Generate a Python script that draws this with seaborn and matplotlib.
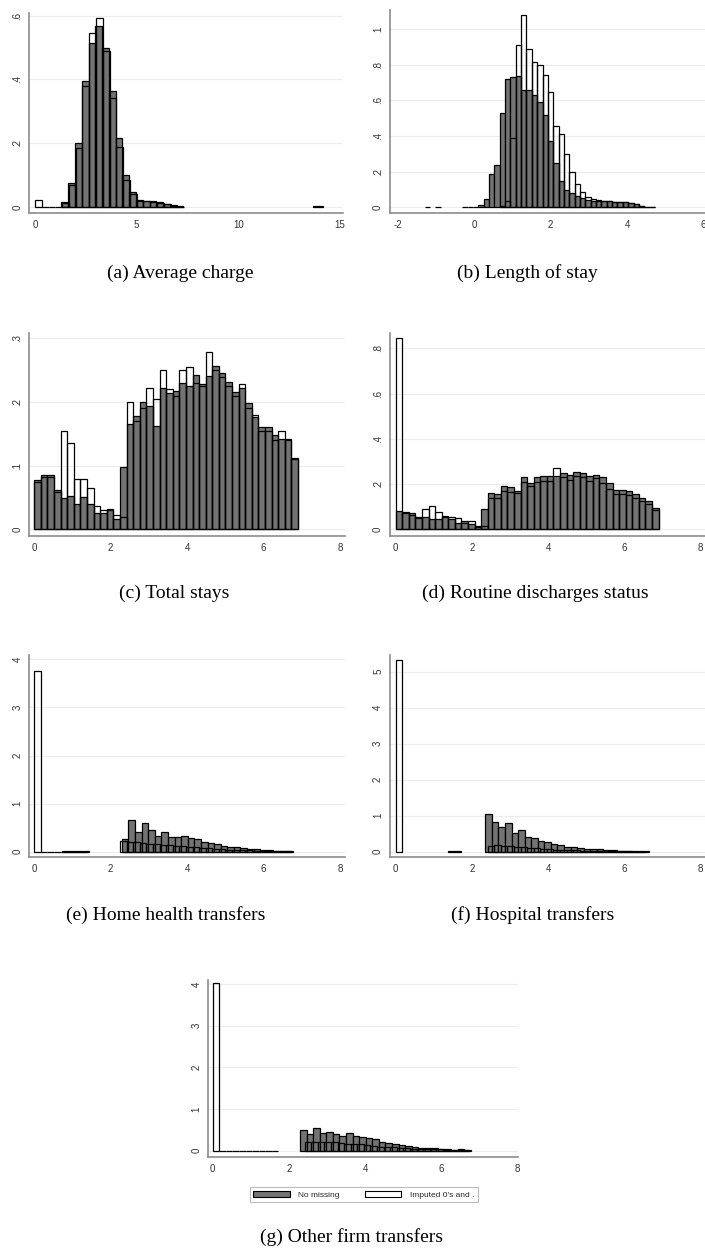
import matplotlib
matplotlib.use("Agg")
import matplotlib.pyplot as plt
from matplotlib.patches import Patch
import numpy as np
import pandas as pd
import seaborn as sns

W_PX, H_PX = 705, 1256
BIN = 0.1725

# (a) Average charge
a_gray_start, a_gray_width = 1.3, 1 / 3
a_gray = [0.015, 0.075, 0.20, 0.395, 0.515, 0.568, 0.498, 0.364, 0.216, 0.10, 0.047,
          0.022, 0.02, 0.018, 0.015, 0.011, 0.006, 0.003]
a_gray_far_start = 13.65
a_gray_far = [0.004, 0.004]
a_white_start, a_white_width = 0.0, 1 / 3
a_white = [0.023, 0.001, 0.001, 0.001, 0.012, 0.07, 0.185, 0.38, 0.545, 0.592, 0.49, 0.341,
           0.187, 0.086, 0.04, 0.02, 0.018, 0.016, 0.013, 0.01, 0.005, 0.002]

# (b) Length of stay
b_gray_start, b_width = -0.31, 0.14
b_gray = [0.002, 0.002, 0.003, 0.013, 0.047, 0.185, 0.24, 0.53, 0.72, 0.73, 0.74, 0.66, 0.66,
          0.63, 0.59, 0.52, 0.37, 0.25, 0.145, 0.097, 0.08, 0.065, 0.05, 0.04, 0.037, 0.035,
          0.035, 0.034, 0.032, 0.03, 0.027, 0.022, 0.017, 0.006, 0.003, 0.002]
b_white_start = -1.29
b_white = [0.003, None, 0.003, None, None, None, None, None, None, None, None, None, None, None,
           0.005, 0.035, 0.39, 0.91, 1.08, 0.89, 0.815, 0.80, 0.745, 0.65, 0.457, 0.41, 0.30,
           0.197, 0.13, 0.083, 0.06, 0.045, 0.04, 0.036, 0.034, 0.032, 0.03, 0.027, 0.022,
           0.017, 0.005, 0.003, 0.002]

# (c) Total stays
c_gray = [0.078, 0.085, 0.085, 0.061, 0.049, 0.053, 0.040, 0.050, 0.039, 0.026, 0.026, 0.030,
          0.016, 0.098, 0.165, 0.178, 0.20, 0.193, 0.163, 0.222, 0.214, 0.217, 0.23, 0.225,
          0.243, 0.228, 0.241, 0.256, 0.245, 0.232, 0.215, 0.222, 0.198, 0.176, 0.16, 0.16,
          0.148, 0.142, 0.142, 0.112]
c_white = [0.075, 0.082, 0.082, 0.058, 0.155, 0.136, 0.079, 0.079, 0.065, 0.037, 0.030, 0.032,
           0.022, 0.02, 0.20, 0.17, 0.19, 0.222, 0.205, 0.25, 0.22, 0.21, 0.25, 0.255, 0.23,
           0.225, 0.278, 0.25, 0.24, 0.225, 0.21, 0.228, 0.19, 0.18, 0.155, 0.155, 0.14, 0.155,
           0.14, 0.11]

# (d) Routine discharges status
d_gray = [0.08, 0.075, 0.07, 0.055, 0.055, 0.045, 0.045, 0.055, 0.045, 0.03, 0.035, 0.025,
          0.015, 0.09, 0.16, 0.155, 0.19, 0.185, 0.17, 0.23, 0.205, 0.23, 0.235, 0.235, 0.235,
          0.25, 0.24, 0.255, 0.25, 0.235, 0.24, 0.23, 0.205, 0.175, 0.175, 0.17, 0.155, 0.14,
          0.125, 0.095]
d_white = [0.847, 0.07, 0.065, 0.05, 0.09, 0.105, 0.075, 0.06, 0.055, 0.05, 0.03, 0.035, 0.012,
           0.015, 0.14, 0.14, 0.17, 0.165, 0.16, 0.21, 0.19, 0.21, 0.215, 0.215, 0.27, 0.23,
           0.22, 0.235, 0.23, 0.215, 0.225, 0.205, 0.18, 0.155, 0.155, 0.15, 0.14, 0.125, 0.11,
           0.085]

# (e) Home health transfers
e_gray_start = 0.0475
e_gray = [None, None, None, None, 0.008, 0.008, 0.008, 0.008, None, None, None, None, None,
          0.27, 0.655, 0.40, 0.59, 0.46, 0.33, 0.41, 0.30, 0.31, 0.32, 0.28, 0.27, 0.21, 0.19,
          0.155, 0.125, 0.105, 0.09, 0.08, 0.065, 0.055, 0.04, 0.03, 0.02, 0.012, 0.008]
e_white = [3.75, 0.003, 0.003, 0.003, 0.003, 0.003, 0.003, 0.003, None, None, None, None, None,
           0.22, 0.21, 0.20, 0.19, 0.17, 0.16, 0.15, 0.13, 0.12, 0.11, 0.10, 0.09, 0.08, 0.07,
           0.06, 0.05, 0.045, 0.04, 0.035, 0.03, 0.025, 0.02, 0.015, 0.01, 0.007, 0.005]

# (f) Hospital transfers
f_gray_start = 2.35
f_gray = [1.05, 0.82, 0.69, 0.785, 0.51, 0.59, 0.40, 0.37, 0.30, 0.28, 0.21, 0.19, 0.14, 0.12,
          0.09, 0.075, 0.065, 0.085, 0.045, 0.035, 0.025, 0.02, 0.015, 0.01, 0.006]
f_white = [5.32, None, None, None, None, None, None, None, 0.01, 0.01, None, None, None, None,
           0.17, 0.18, 0.17, 0.15, 0.13, 0.12, 0.10, 0.09, 0.08, 0.07, 0.06, 0.05, 0.04, 0.035,
           0.03, 0.025, 0.02, 0.015, 0.012, 0.01, 0.008, 0.006, 0.005, 0.004]

# (g) Other firm transfers
g_gray_start = 2.29
g_gray = [0.50, 0.40, 0.555, 0.42, 0.46, 0.395, 0.36, 0.435, 0.36, 0.34, 0.31, 0.27, 0.22,
          0.18, 0.15, 0.14, 0.11, 0.09, 0.065, 0.055, 0.055, 0.05, 0.03, 0.02, 0.03, 0.015]
g_white = [4.02, 0.003, 0.003, 0.003, 0.003, 0.003, 0.003, 0.003, 0.003, 0.003, None, None,
           None, None, 0.20, 0.20, 0.22, 0.20, 0.20, 0.18, 0.17, 0.16, 0.15, 0.13, 0.11, 0.10,
           0.09, 0.08, 0.07, 0.06, 0.05, 0.045, 0.04, 0.03, 0.03, 0.025, 0.02, 0.015, 0.01]

legend_labels = ["No missing", "Imputed 0's and ."]

panels = {
    "a": dict(rect=(29.3, 343, 13.3, 213.3), xlim=(-0.28, 15.15), ylim=(-0.019, 0.607),
              xticks=[0, 5, 10, 15], yticks=[0, 0.2, 0.4, 0.6], ylabels=["0", ".2", ".4", ".6"],
              series=[(a_gray_start, a_gray_width, a_gray, True),
                      (a_gray_far_start, 0.25, a_gray_far, True),
                      (a_white_start, a_white_width, a_white, False)],
              caption="(a) Average charge", cap_xy=(180, 273)),
    "b": dict(rect=(390, 705, 10, 213.3), xlim=(-2.2, 6.04), ylim=(-0.034, 1.108),
              xticks=[-2, 0, 2, 4, 6], yticks=[0, 0.2, 0.4, 0.6, 0.8, 1.0],
              ylabels=["0", ".2", ".4", ".6", ".8", "1"],
              series=[(b_gray_start, b_width, b_gray, True),
                      (b_white_start, b_width, b_white, False)],
              caption="(b) Length of stay", cap_xy=(527, 273)),
    "c": dict(rect=(29.3, 345, 333.3, 536), xlim=(-0.13, 8.13), ylim=(-0.0105, 0.308),
              xticks=[0, 2, 4, 6, 8], yticks=[0, 0.1, 0.2, 0.3], ylabels=["0", ".1", ".2", ".3"],
              series=[(0.0, BIN, c_gray, True), (0.0, BIN, c_white, False)],
              caption="(c) Total stays", cap_xy=(174, 593)),
    "d": dict(rect=(390, 705, 333.3, 536), xlim=(-0.15, 8.12), ylim=(-0.0296, 0.866),
              xticks=[0, 2, 4, 6, 8], yticks=[0, 0.2, 0.4, 0.6, 0.8],
              ylabels=["0", ".2", ".4", ".6", ".8"],
              series=[(0.0, BIN, d_gray, True), (0.0, BIN, d_white, False)],
              caption="(d) Routine discharges status", cap_xy=(535, 593)),
    "e": dict(rect=(29.3, 345, 655, 857.3), xlim=(-0.13, 8.13), ylim=(-0.116, 4.09),
              xticks=[0, 2, 4, 6, 8], yticks=[0, 1, 2, 3, 4], ylabels=["0", "1", "2", "3", "4"],
              series=[(e_gray_start, BIN, e_gray, True), (0.0, BIN, e_white, False)],
              caption="(e) Home health transfers", cap_xy=(166, 915)),
    "f": dict(rect=(390, 705, 655, 857.3), xlim=(-0.15, 8.12), ylim=(-0.156, 5.46),
              xticks=[0, 2, 4, 6, 8], yticks=[0, 1, 2, 3, 4, 5],
              ylabels=["0", "1", "2", "3", "4", "5"],
              series=[(f_gray_start, BIN, f_gray, True), (0.0, BIN, f_white, False)],
              caption="(f) Hospital transfers", cap_xy=(533, 915)),
    "g": dict(rect=(208.3, 518, 980, 1156.7), xlim=(-0.115, 8.01), ylim=(-0.144, 4.10),
              xticks=[0, 2, 4, 6, 8], yticks=[0, 1, 2, 3, 4], ylabels=["0", "1", "2", "3", "4"],
              series=[(g_gray_start, BIN, g_gray, True), (0.0, BIN, g_white, False)],
              caption="(g) Other firm transfers", cap_xy=(352, 1237)),
}

GRAY = "#737373"
AXIS = "#8c8c8c"

sns.set_style("white")
plt.rcParams["font.family"] = ["Liberation Sans", "DejaVu Sans"]


def draw_series(ax, start, width, heights, filled):
    # split on None so gaps stay empty
    runs, cur = [], []
    for i, h in enumerate(heights):
        if h is None:
            if cur:
                runs.append(cur)
            cur = []
        else:
            cur.append((i, h))
    if cur:
        runs.append(cur)
    for run in runs:
        idx = [i for i, _ in run]
        edges = start + width * np.arange(idx[0], idx[-1] + 2)
        df = pd.DataFrame({"center": edges[:-1] + width / 2, "h": [h for _, h in run]})
        bins = [float(e) for e in edges]
        if filled:
            sns.histplot(data=df, x="center", weights="h", bins=bins, stat="count", ax=ax,
                         element="bars", fill=True, color=GRAY, alpha=1,
                         edgecolor="black", linewidth=0.9)
        else:
            sns.histplot(data=df, x="center", weights="h", bins=bins, stat="count", ax=ax,
                         element="bars", fill=False, color="black", linewidth=0.9)


fig = plt.figure(figsize=(W_PX / 100, H_PX / 100), dpi=100)

for key, p in panels.items():
    left, right, top, bottom = p["rect"]
    ax = fig.add_axes([left / W_PX, 1 - bottom / H_PX, (right - left) / W_PX, (bottom - top) / H_PX])
    for start, width, heights, filled in p["series"]:
        draw_series(ax, start, width, heights, filled)
    ax.set_xlim(*p["xlim"])
    ax.set_ylim(*p["ylim"])
    ax.set_xticks(p["xticks"])
    ax.set_xticklabels([str(t) for t in p["xticks"]])
    ax.set_yticks(p["yticks"])
    ax.set_yticklabels(p["ylabels"], rotation=90, va="center")
    ax.set_xlabel("")
    ax.set_ylabel("")
    ax.set_axisbelow(True)
    ax.grid(axis="y", color="#ececec", linewidth=0.8)
    for side in ["top", "right"]:
        ax.spines[side].set_visible(False)
    for side in ["left", "bottom"]:
        ax.spines[side].set_color(AXIS)
        ax.spines[side].set_linewidth(1.2)
    ax.tick_params(axis="both", direction="out", length=3, width=0.8, color=AXIS,
                   labelsize=7, labelcolor="#333333", pad=2)
    cx, cy = p["cap_xy"]
    fig.text(cx / W_PX, 1 - cy / H_PX, p["caption"], ha="center", va="center",
             family="Liberation Serif", fontsize=14, color="black")

handles = [Patch(facecolor=GRAY, edgecolor="black", linewidth=0.8),
           Patch(facecolor="white", edgecolor="black", linewidth=0.8)]
leg = fig.legend(handles, legend_labels, ncol=2,
                 loc="center", bbox_to_anchor=(363.8 / W_PX, 1 - 1194.6 / H_PX),
                 fontsize=6, handlelength=4.4, handleheight=0.8, columnspacing=3.0,
                 handletextpad=1.0, borderpad=0.4, frameon=True, fancybox=False)
leg.get_frame().set_edgecolor("#aaaaaa")
leg.get_frame().set_linewidth(0.8)

fig.savefig("out.png", dpi=100)
